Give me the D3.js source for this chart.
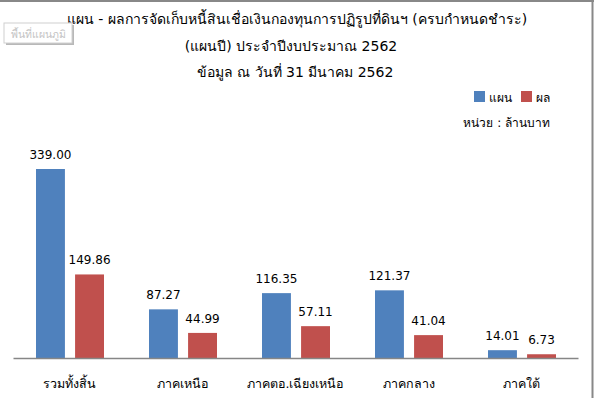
<!DOCTYPE html>
<html>
<head>
<meta charset="utf-8">
<script src="https://cdn.jsdelivr.net/npm/d3@7"></script>
<style>
  body { margin: 0; background: #fff; }
  svg { display: block; }
</style>
</head>
<body>
<div id="chart"></div>
<script>
const categories = ["รวมทั้งสิ้น", "ภาคเหนือ", "ภาคตอ.เฉียงเหนือ", "ภาคกลาง", "ภาคใต้"]
const planValues = [339.00, 87.27, 116.35, 121.37, 14.01]
const resultValues = [149.86, 44.99, 57.11, 41.04, 6.73]
const seriesNames = ["แผน", "ผล"]
const titleLines = [
  "แผน - ผลการจัดเก็บหนี้สินเชื่อเงินกองทุนการปฏิรูปที่ดินฯ (ครบกำหนดชำระ)",
  "(แผนปี)  ประจำปีงบประมาณ 2562",
  "ข้อมูล ณ วันที่ 31 มีนาคม 2562"
]
const unitLabel = "หน่วย : ล้านบาท"
const watermark = "พื้นที่แผนภูมิ"

const width = 594
const height = 398
const colors = ["#4F81BD", "#C0504D"] // blue = plan, red = result
const font = "Tahoma, 'DejaVu Sans', 'Noto Sans', sans-serif"

const svg = d3.select("#chart").append("svg")
  .attr("width", width)
  .attr("height", height)
  .attr("font-family", font)

// frame (top + right edges visible in the reference)
svg.append("line").attr("x1", 0).attr("x2", width).attr("y1", 1).attr("y2", 1)
  .attr("stroke", "#888").attr("stroke-width", 2)
svg.append("line").attr("x1", 592.5).attr("x2", 592.5).attr("y1", 0).attr("y2", height)
  .attr("stroke", "#888").attr("stroke-width", 2)

// plot area
const x0 = d3.scaleBand().domain(categories).range([13, 578])
const x1 = d3.scaleBand().domain(seriesNames).range([23, 91]).paddingInner(0.26)
const y = d3.scaleLinear().domain([0, 339]).range([358, 169])

const rows = categories.map((c, i) => ({ cat: c, vals: [planValues[i], resultValues[i]] }))

const groups = svg.append("g").selectAll("g")
  .data(rows)
  .join("g")
  .attr("transform", d => `translate(${x0(d.cat)},0)`)

groups.selectAll("rect")
  .data(d => d.vals.map((v, j) => ({ key: seriesNames[j], v, j })))
  .join("rect")
  .attr("x", d => x1(d.key))
  .attr("width", x1.bandwidth())
  .attr("y", d => y(d.v))
  .attr("height", d => y(0) - y(d.v))
  .attr("fill", d => colors[d.j])

groups.selectAll("text.val")
  .data(d => d.vals.map((v, j) => ({ key: seriesNames[j], v, j })))
  .join("text")
  .classed("val", true)
  .attr("x", d => x1(d.key) + x1.bandwidth() / 2)
  .attr("y", d => y(d.v) - 10)
  .attr("text-anchor", "middle")
  .attr("font-size", 12)
  .attr("fill", "#000")
  .text(d => d.v.toFixed(2))

// x axis
const xAxis = svg.append("g")
  .attr("transform", `translate(0,${y(0)})`)
  .call(d3.axisBottom(x0).tickSize(0).tickPadding(21))
xAxis.select(".domain").attr("stroke", "#868686").attr("stroke-width", 1.5)
xAxis.selectAll("text").attr("font-size", 12.5).attr("font-family", font).attr("fill", "#000")

// title
svg.append("g").selectAll("text")
  .data(titleLines)
  .join("text")
  .attr("x", (d, i) => [297, 291, 295][i])
  .attr("y", (d, i) => 24 + i * 26.5)
  .attr("text-anchor", "middle")
  .attr("font-size", 14)
  .attr("fill", "#000")
  .text(d => d)

// legend
const legend = svg.append("g").selectAll("g")
  .data(seriesNames)
  .join("g")
  .attr("transform", (d, i) => `translate(${[474, 521][i]},91)`)
legend.append("rect").attr("width", 11).attr("height", 11).attr("fill", (d, i) => colors[i])
legend.append("text").attr("x", 15).attr("y", 10.5).attr("font-size", 12).text(d => d)

svg.append("text")
  .attr("x", 550).attr("y", 127)
  .attr("text-anchor", "end")
  .attr("font-size", 12)
  .text(unitLabel)

// chart area tooltip box
const wm = svg.append("g").attr("transform", "translate(4,23)")
wm.append("rect").attr("x", 2).attr("y", 2).attr("width", 68).attr("height", 20).attr("fill", "#b8b8b8")
wm.append("rect").attr("width", 68).attr("height", 20).attr("fill", "#fff").attr("stroke", "#d0d0d0")
wm.append("text").attr("x", 34).attr("y", 14.5).attr("text-anchor", "middle")
  .attr("font-size", 10.5).attr("fill", "#c4c4c4").text(watermark)
</script>
</body>
</html>
